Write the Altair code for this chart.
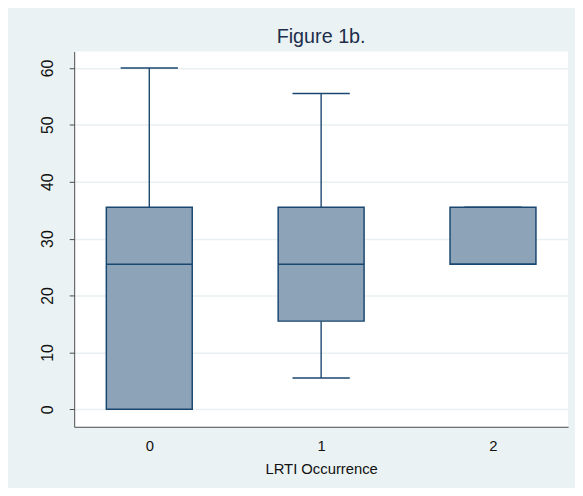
import altair as alt
import pandas as pd

# Data
groups = [0, 1, 2]
lower_whisker = [0.0, 5.5, 25.5]
q1 = [0.0, 15.5, 25.5]
median = [25.5, 25.5, 25.5]
q3 = [35.5, 35.5, 35.5]
upper_whisker = [60.0, 55.5, 35.5]

df = pd.DataFrame({
    "group": groups,
    "lo": lower_whisker,
    "q1": q1,
    "med": median,
    "q3": q3,
    "hi": upper_whisker,
})

NAVY = "#1A476F"
FILL = "#8DA3B7"
FONT = "Liberation Sans"

xscale = alt.Scale(domain=[-0.437, 2.437], nice=False, zero=False)
yscale = alt.Scale(domain=[-3.07, 62.9], nice=False, zero=False)

xaxis = alt.Axis(values=groups, title="LRTI Occurrence", ticks=False, grid=False,
                 labelFontSize=15, labelPadding=12, titleFontSize=15,
                 titlePadding=8, titleFontWeight="normal", labelColor="#111111",
                 titleColor="#111111", domainColor="#4a4a4a", labelFont=FONT,
                 titleFont=FONT, format="d")
yaxis = alt.Axis(values=[0, 10, 20, 30, 40, 50, 60], title=None, grid=True,
                 gridColor="#E8F0F2", gridWidth=1.5, tickSize=5,
                 tickColor="#4a4a4a", domainColor="#4a4a4a",
                 labelAngle=270, labelAlign="center", labelBaseline="alphabetic",
                 labelPadding=17, labelFontSize=16, labelColor="#111111",
                 labelFont=FONT)

base = alt.Chart(df).transform_calculate(
    bl="datum.group - 0.25", br="datum.group + 0.25",
    cl="datum.group - 0.1667", cr="datum.group + 0.1667",
)

whisk_up = base.mark_rule(color=NAVY, strokeWidth=1.4).encode(
    x=alt.X("group:Q", scale=xscale, axis=xaxis),
    y=alt.Y("q3:Q", scale=yscale, axis=yaxis),
    y2="hi:Q",
)
whisk_lo = base.mark_rule(color=NAVY, strokeWidth=1.4).encode(
    x=alt.X("group:Q", scale=xscale),
    y=alt.Y("lo:Q", scale=yscale),
    y2="q1:Q",
)
cap_up = base.mark_rule(color=NAVY, strokeWidth=1.6).encode(
    x=alt.X("cl:Q", scale=xscale), x2="cr:Q",
    y=alt.Y("hi:Q", scale=yscale),
)
cap_lo = base.mark_rule(color=NAVY, strokeWidth=1.6).encode(
    x=alt.X("cl:Q", scale=xscale), x2="cr:Q",
    y=alt.Y("lo:Q", scale=yscale),
)
box = base.mark_rect(fill=FILL, stroke=NAVY, strokeWidth=1.5).encode(
    x=alt.X("bl:Q", scale=xscale), x2="br:Q",
    y=alt.Y("q1:Q", scale=yscale), y2="q3:Q",
)
med = base.mark_rule(color=NAVY, strokeWidth=1.5).encode(
    x=alt.X("bl:Q", scale=xscale), x2="br:Q",
    y=alt.Y("med:Q", scale=yscale),
)

chart = alt.layer(whisk_up, whisk_lo, cap_up, cap_lo, box, med).properties(
    width=500,
    height=380,
    title=alt.TitleParams("Figure 1b.", fontSize=20, font=FONT, color="#1C2E4C",
                          fontWeight="normal", anchor="middle", offset=5),
    background="#EAF2F3",
    padding={"left": 67, "top": 41, "right": 7, "bottom": 59},
    autosize=alt.AutoSizeParams(type="none"),
).configure_view(fill="white", stroke=None)

chart.save("out.html", embed_options={"renderer": "svg", "actions": False})
